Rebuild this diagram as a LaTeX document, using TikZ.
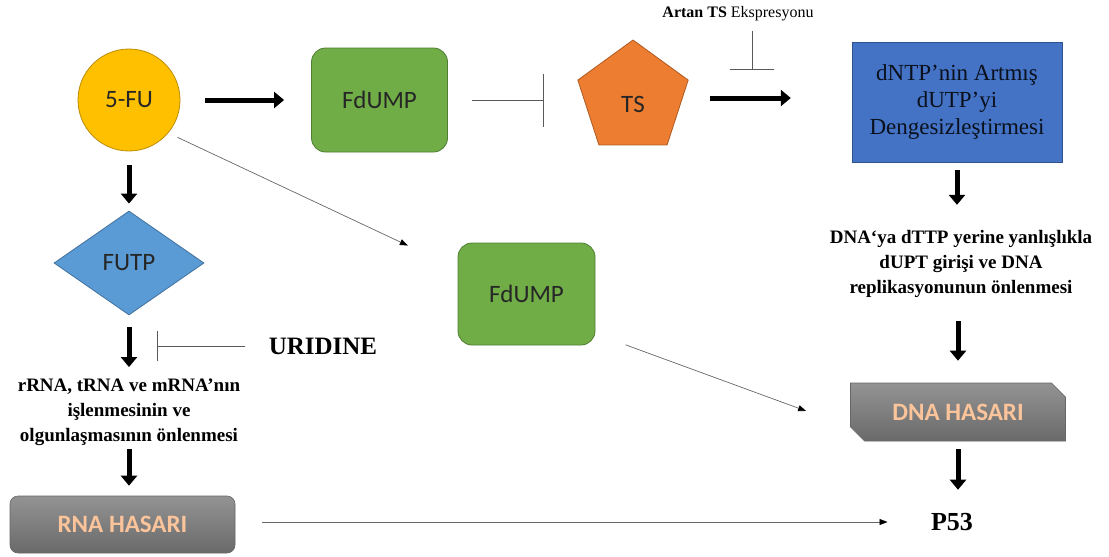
\documentclass[tikz,border=0pt]{standalone}
\usepackage{fontspec}
\setmainfont{Liberation Serif}
\newfontfamily\calib{Carlito}
\usetikzlibrary{arrows.meta,shapes.geometric,shapes.misc}
\definecolor{fuyellow}{HTML}{FFC000}
\definecolor{fuyellowd}{HTML}{BC8C00}
\definecolor{fdgreen}{HTML}{70AD47}
\definecolor{fdgreend}{HTML}{507E32}
\definecolor{tsorange}{HTML}{ED7D31}
\definecolor{tsoranged}{HTML}{AE5A21}
\definecolor{dntpblue}{HTML}{4472C4}
\definecolor{dntpblued}{HTML}{2F528F}
\definecolor{futpblue}{HTML}{5B9BD5}
\definecolor{futpblued}{HTML}{41719C}
\definecolor{hasartop}{HTML}{939393}
\definecolor{hasarbot}{HTML}{6A6A6A}
\definecolor{hasartext}{HTML}{FBC49A}
\begin{document}
\begin{tikzpicture}[x=1pt,y=-1pt,
  fat/.style={line width=5pt,-{Triangle[length=10pt,width=16pt]}},
  thinarr/.style={draw=black!60,line width=0.7pt,-{Triangle[length=8pt,width=6pt,black]}},
  inhib/.style={draw=black!65,line width=0.7pt},
  shp/.style={font=\calib\fontsize{25}{29}\selectfont,text=black!85,line width=0.8pt},
  hasar/.style={top color=hasartop,bottom color=hasarbot,draw=black!60,line width=0.6pt,
    font=\calib\bfseries\fontsize{25}{29}\selectfont,text=hasartext},
  lbl/.style={align=center,font=\bfseries\fontsize{19}{25}\selectfont}]
\useasboundingbox (0,0) rectangle (1109,557);

% top row
\node[shp, circle, minimum size=102pt, fill=fuyellow, draw=fuyellowd] (fu) at (129,100){5-FU};
\node[shp, rounded corners=14pt, minimum width=136pt, minimum height=104pt, fill=fdgreen, draw=fdgreend] (fdump1) at (379.5,100){FdUMP};
\node[shp, regular polygon, regular polygon sides=5, minimum size=116pt, text height=28pt, text depth=0pt,
  fill=tsorange, draw=tsoranged] (ts) at (633,98){TS};
\node[font=\fontsize{16}{19}\selectfont] (artan) at (738,14){\textbf{Artan TS} Ekspresyonu};
\coordinate (artanbar) at (752,70);
\node[minimum width=210pt, minimum height=120pt, fill=dntpblue, draw=dntpblued, align=center,
  font=\fontsize{23}{27}\selectfont, text=black!85!dntpblue] (dntp) at (957,102){dNTP’nin Artmış\\dUTP’yi\\Dengesizleştirmesi};

% right column
\node[lbl] (dnatext) at (961,264){DNA‘ya dTTP yerine yanlışlıkla\\dUPT girişi ve DNA\\replikasyonunun önlenmesi};
\node[hasar, chamfered rectangle, chamfered rectangle corners={north east,south west},
  chamfered rectangle xsep=7pt, chamfered rectangle ysep=7pt,
  minimum width=215pt, minimum height=58pt] (dna) at (958,412){DNA HASARI};
\node[font=\bfseries\fontsize{26}{30}\selectfont] (p53) at (952,522){P53};

% middle
\node[shp, rounded corners=14pt, minimum width=137pt, minimum height=102pt, fill=fdgreen, draw=fdgreend] (fdump2) at (526.5,294){FdUMP};

% left column
\node[shp, diamond, aspect=1.45, minimum width=150pt, minimum height=104pt, fill=futpblue, draw=futpblued] (futp) at (129,263){FUTP};
\node[font=\bfseries\fontsize{25}{30}\selectfont] (uridine) at (323,346){URIDINE};
\coordinate (uribar) at (157,346);
\node[lbl] (rnatext) at (129,412){rRNA, tRNA ve mRNA’nın\\işlenmesinin ve\\olgunlaşmasının önlenmesi};
\node[hasar, rounded corners=8pt, minimum width=225pt, minimum height=57pt] (rna) at (122.5,524.5){RNA HASARI};

% connectors
\draw[fat, shorten <=25pt, shorten >=27pt] (fu) -- (fdump1);
\draw[inhib, -{Bar[width=53pt]}, shorten <=24pt, shorten >=40pt] (fdump1.east) -- (fdump1.east -| ts.west);
\draw[fat, shorten <=27pt, shorten >=61pt] (ts.east) -- (ts.east -| dntp.west);
\draw[inhib, -{Bar[width=44pt]}, shorten <=6pt] (artan.south -| artanbar) -- (artanbar);
\draw[fat, shorten <=8pt, shorten >=22pt] (dntp.south) -- (dntp.south |- dnatext.north);
\draw[fat, shorten <=20pt, shorten >=22pt] (dnatext.south -| dna.north) -- (dna.north);
\draw[fat, shorten <=8pt, shorten >=20pt] (dna.south) -- (dna.south |- p53.north);

\draw[fat, shorten <=14pt, shorten >=7pt] (fu) -- (futp);
\draw[fat, shorten <=12pt, shorten >=8pt] (futp) -- (rnatext);
\draw[fat, shorten <=0pt, shorten >=10pt] (rnatext.south) -- (rnatext.south |- rna.north);
\draw[inhib, -{Bar[width=30pt]}, shorten <=20pt] (uridine) -- (uribar);

\draw[thinarr, shorten <=10pt, shorten >=55pt] (fu.-40) -- (fdump2.160);
\draw[thinarr, shorten <=32pt, shorten >=47pt] (fdump2.-30) -- (dna.-172);
\draw[thinarr, shorten <=27pt, shorten >=40pt] (rna.east |- p53) -- (p53.west);

\end{tikzpicture}
\end{document}
